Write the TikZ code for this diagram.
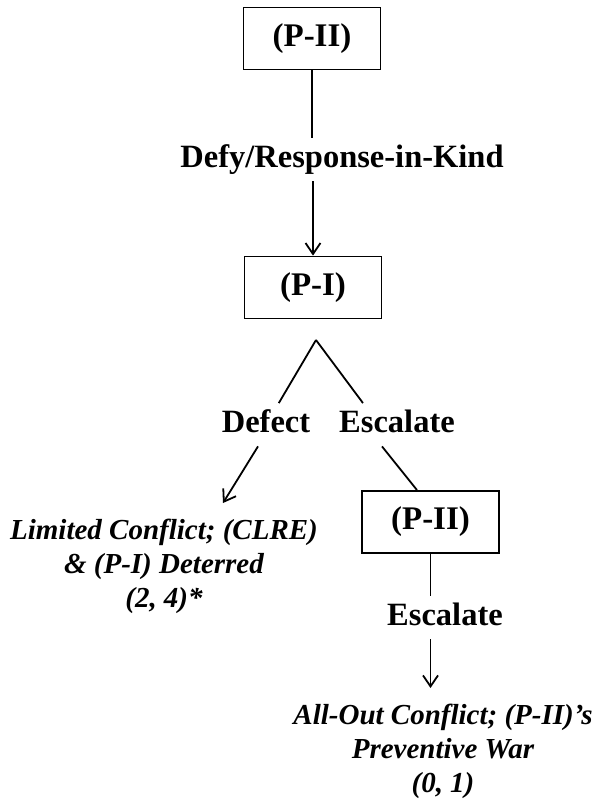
\documentclass[tikz,border=0pt]{standalone}
\usepackage{fontspec}
\setmainfont{Liberation Serif}
\usetikzlibrary{arrows.meta,calc}
\begin{document}
\begin{tikzpicture}[x=1pt,y=-1pt,line width=1.8pt,
  decision/.style={draw,line width=1.8pt,minimum width=137pt,minimum height=62pt,
    inner sep=0pt,font=\fontsize{33}{36}\selectfont\bfseries},
  move/.style={font=\fontsize{32.5}{36}\selectfont\bfseries,text height=21.5pt,
    text depth=7pt,inner xsep=2pt,inner ysep=6.5pt},
  outcome/.style={font=\fontsize{29}{34}\selectfont\bfseries\itshape,align=center,
    inner xsep=0pt,inner ysep=15pt,anchor=north},
  arr/.style={-{Straight Barb[length=11pt,width=15pt,line width=1.8pt]}}
]
\useasboundingbox (0,0) rectangle (593,800);

% decision nodes
\node[decision] (top) at (312,38.5) {(P-II)};
\node[decision] (p1)  at (313,287.5) {(P-I)};
\node[decision] (p2)  at (430.5,522) {(P-II)};
\coordinate (apex) at (316,340);

% move labels
\node[move] (defy)   at (342,159.75) {Defy/Response-in-Kind};
\node[move] (defect) at (266,424.75) {Defect};
\node[move] (esc1)   at (397,424.75) {Escalate};
\node[move] (esc2)   at (445,617.75) {Escalate};

% outcomes
\node[outcome] (lim) at (164,503) {Limited Conflict; (CLRE)\\ \& (P-I) Deterred\\ (2, 4)*};
\node[outcome] (war) at (443,688) {All-Out Conflict; (P-II)’s\\ Preventive War\\ (0, 1)};

% branches
\draw (top.south) -- (top.south |- defy.north);
\draw[arr] (p1.north |- defy.south) -- (p1.north);
\draw (apex) -- (defect);
\draw (apex) -- ([xshift=-34pt]esc1.north);
\draw[arr] ([xshift=-8pt]defect.south) -- ([xshift=59pt]lim.north);
\draw ([xshift=-15pt]esc1.south) -- ([xshift=-13.5pt]p2.north);
\draw (p2.south) -- (p2.south |- esc2.north);
\draw[arr] (p2.south |- esc2.south) -- (p2.south |- war.north);
\end{tikzpicture}
\end{document}
